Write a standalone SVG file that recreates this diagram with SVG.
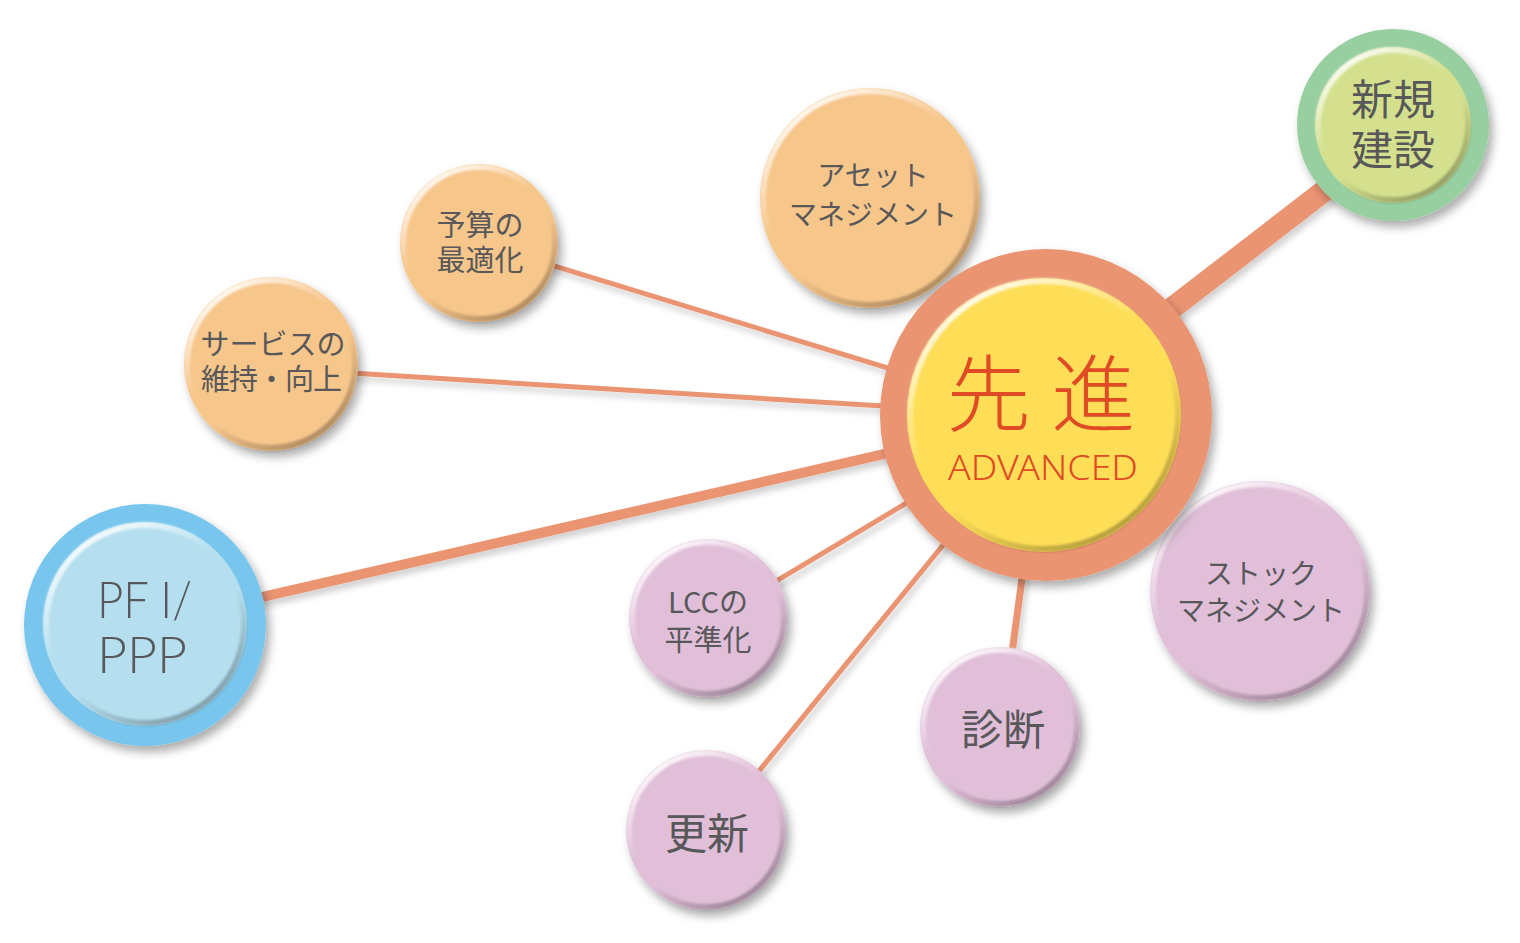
<svg xmlns="http://www.w3.org/2000/svg" width="1520" height="943" viewBox="0 0 1520 943">
<style>
.t{font-family:"Noto Sans CJK JP","Noto Sans",sans-serif;fill:#58585a;text-anchor:middle}
.s{font-size:28px}
.m{font-size:29px}
.l{font-size:42px}
.link{stroke:#ea9472;fill:none;stroke-linecap:butt}
.orange{fill:#f7c68b}
.pink{fill:#e1bfd9}
.bev{fill:none;stroke:url(#bev);stroke-width:6;filter:url(#soft)}
.pfi{font-family:Lato,"Liberation Sans",sans-serif;font-size:52px;font-weight:300;fill:#58585a}
</style>
<defs>
<filter id="sh" x="-20%" y="-20%" width="150%" height="150%">
<feDropShadow dx="4" dy="6" stdDeviation="5" flood-color="#000" flood-opacity="0.32"/>
</filter>
<filter id="lsh" x="-10%" y="-10%" width="120%" height="120%">
<feDropShadow dx="3" dy="5" stdDeviation="3" flood-color="#000" flood-opacity="0.18"/>
</filter>
<filter id="soft" x="-10%" y="-10%" width="120%" height="120%">
<feGaussianBlur stdDeviation="1.3"/>
</filter>
<linearGradient id="bev" x1="0.2" y1="0.05" x2="0.8" y2="0.95">
<stop offset="0" stop-color="#fff" stop-opacity="0.9"/>
<stop offset="0.4" stop-color="#fff" stop-opacity="0"/>
<stop offset="0.6" stop-color="#000" stop-opacity="0"/>
<stop offset="1" stop-color="#000" stop-opacity="0.3"/>
</linearGradient>
</defs>
<rect width="1520" height="943" fill="#fff"/>
<g id="connectors" filter="url(#lsh)">
<line class="link" x1="479" y1="243" x2="1045" y2="416" stroke-width="5"/>
<line class="link" x1="271" y1="368" x2="1045" y2="416" stroke-width="5"/>
<line class="link" x1="145" y1="624" x2="1045" y2="417" stroke-width="10"/>
<line class="link" x1="708" y1="622" x2="1045" y2="420" stroke-width="5"/>
<line class="link" x1="706" y1="836" x2="1045" y2="420" stroke-width="5"/>
<line class="link" x1="1002" y1="727" x2="1044" y2="415" stroke-width="7"/>
<line class="link" x1="1045" y1="406" x2="1393" y2="138" stroke-width="22"/>
</g>
<g id="node-asset">
<circle class="orange" cx="870" cy="198" r="110" filter="url(#sh)"/>
<circle class="bev" cx="870" cy="198" r="107"/>
<text class="t s" x="873" y="186">アセット<tspan x="873" dy="39">マネジメント</tspan></text>
</g>
<g id="node-budget">
<circle class="orange" cx="479" cy="243" r="79" filter="url(#sh)"/>
<circle class="bev" cx="479" cy="243" r="76"/>
<text class="t m" x="480" y="236">予算の<tspan x="480" dy="35">最適化</tspan></text>
</g>
<g id="node-service">
<circle class="orange" cx="271" cy="364" r="87" filter="url(#sh)"/>
<circle class="bev" cx="271" cy="364" r="84"/>
<text class="t m" x="273" y="355">サービスの<tspan x="271" dy="35" letter-spacing="-1">維持・向上</tspan></text>
</g>
<g id="node-pfi">
<circle cx="145" cy="625" r="121" fill="#78c6ee" filter="url(#sh)"/>
<circle cx="145" cy="624" r="102" fill="#b5dfef"/>
<circle class="bev" cx="145" cy="624" r="99"/>
<text class="pfi" x="97" y="618" textLength="95" lengthAdjust="spacingAndGlyphs">PF I/</text>
<text class="pfi" x="97" y="673" textLength="90" lengthAdjust="spacingAndGlyphs">PPP</text>
</g>
<g id="node-lcc">
<circle class="pink" cx="708" cy="618" r="79" filter="url(#sh)"/>
<circle class="bev" cx="708" cy="618" r="76"/>
<text class="t m" x="708" y="613">LCCの<tspan x="708" dy="38">平準化</tspan></text>
</g>
<g id="node-koshin">
<circle class="pink" cx="706" cy="830" r="80" filter="url(#sh)"/>
<circle class="bev" cx="706" cy="830" r="77"/>
<text class="t l" x="707" y="849">更新</text>
</g>
<g id="node-shindan">
<circle class="pink" cx="1000" cy="727" r="80" filter="url(#sh)"/>
<circle class="bev" cx="1000" cy="727" r="77"/>
<text class="t l" x="1003" y="745">診断</text>
</g>
<g id="node-stock">
<circle class="pink" cx="1260" cy="591" r="110" filter="url(#sh)"/>
<circle class="bev" cx="1260" cy="591" r="107"/>
<text class="t s" x="1261" y="584">ストック<tspan x="1261" dy="37">マネジメント</tspan></text>
</g>
<g id="node-shinki">
<circle cx="1393" cy="125" r="96" fill="#97cfa0" filter="url(#sh)"/>
<circle cx="1393" cy="125" r="78" fill="#d4e08d"/>
<circle class="bev" cx="1393" cy="125" r="75"/>
<text class="t l" x="1393" y="115">新規<tspan x="1393" dy="50">建設</tspan></text>
</g>
<g id="node-center">
<circle cx="1046" cy="415" r="166" fill="#ea9472" filter="url(#sh)"/>
<circle cx="1044" cy="415" r="137" fill="#fede57"/>
<circle class="bev" cx="1044" cy="415" r="134"/>
<text x="988.5 1093.5" y="425" style="font-family:'Noto Sans CJK JP',sans-serif;font-size:84px;font-weight:300;fill:#e04a25;text-anchor:middle">先進</text>
<text x="948" y="480" style="font-family:'Noto Sans','Liberation Sans',sans-serif;font-size:34px;font-weight:300;fill:#e04a25" textLength="190" lengthAdjust="spacingAndGlyphs">ADVANCED</text>
</g>
</svg>
